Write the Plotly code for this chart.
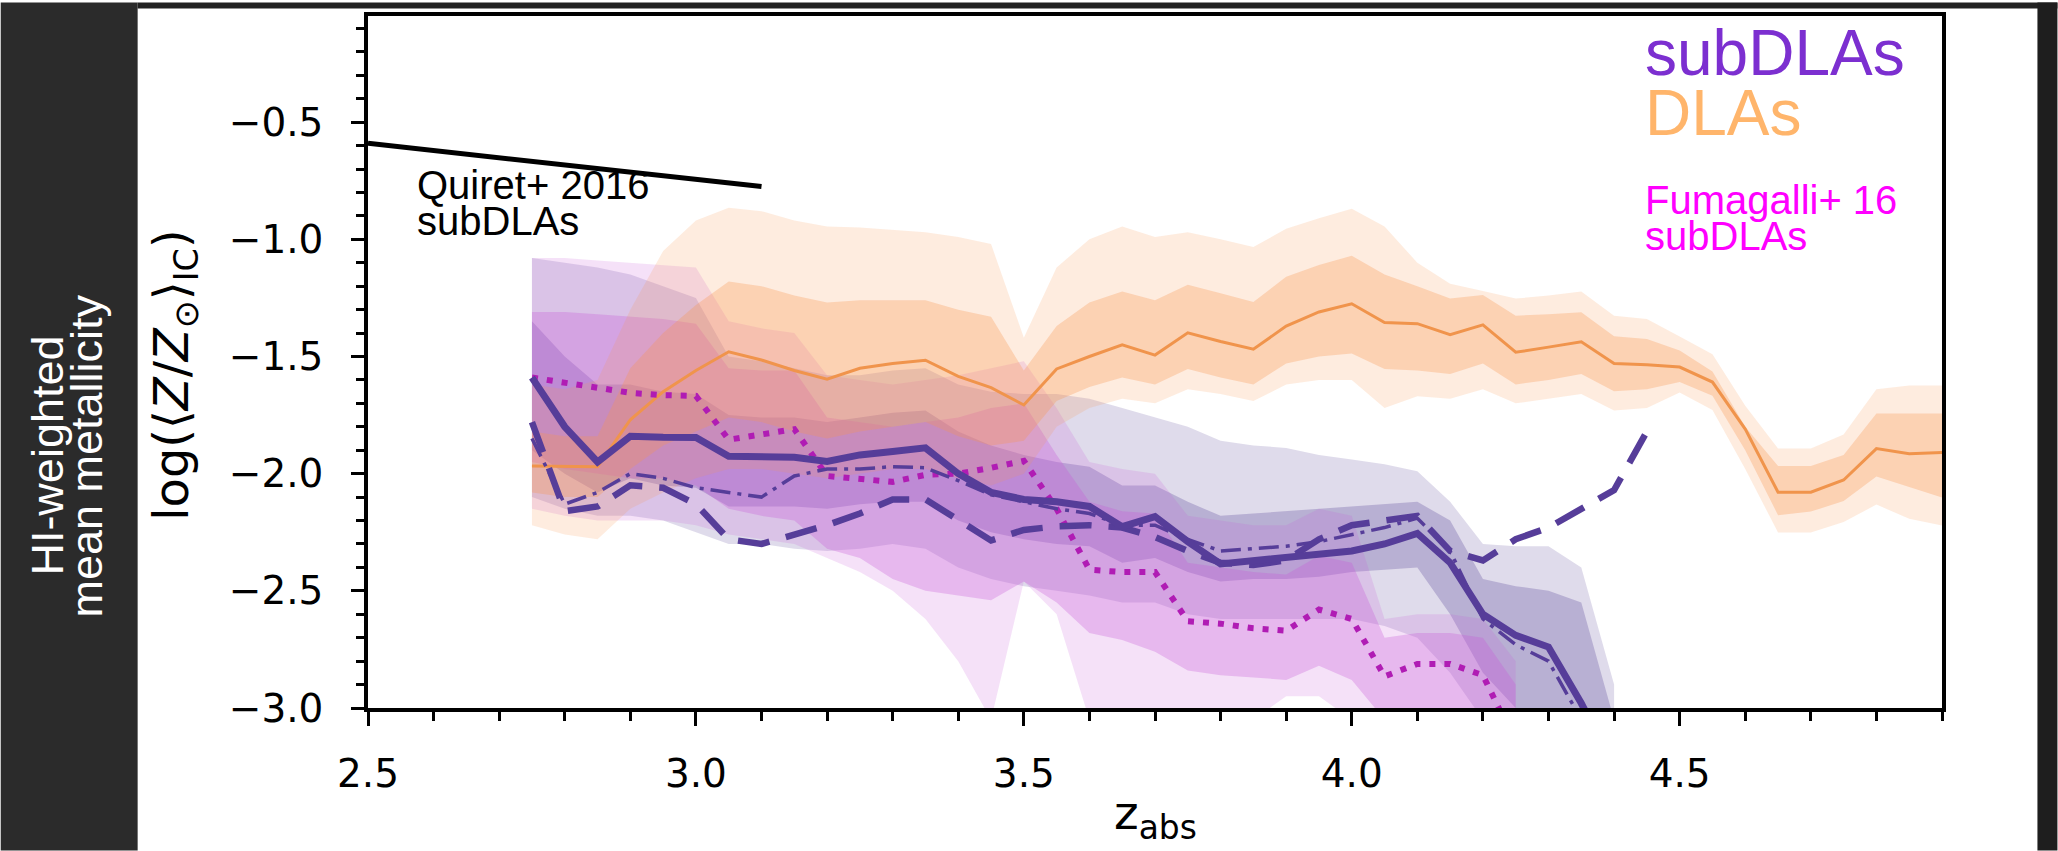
import plotly.graph_objects as go

# ---------------- data ----------------
# DLAs (orange): median and two percentile bands
dla_z = [2.75, 2.80, 2.85, 2.90, 2.95, 3.00, 3.05, 3.10, 3.15, 3.20, 3.25, 3.30, 3.35, 3.40, 3.45,
         3.50, 3.55, 3.60, 3.65, 3.70, 3.75, 3.80, 3.85, 3.90, 3.95, 4.00, 4.05, 4.10, 4.15, 4.20,
         4.25, 4.30, 4.35, 4.40, 4.45, 4.50, 4.55, 4.60, 4.65, 4.70, 4.75, 4.80, 4.85, 4.90]
dla_med = [-1.967, -1.97, -1.97, -1.77, -1.65, -1.56, -1.48, -1.515, -1.56, -1.597, -1.55, -1.53, -1.516, -1.585, -1.633,
           -1.707, -1.553, -1.50, -1.45, -1.494, -1.399, -1.436, -1.469, -1.37, -1.31, -1.275, -1.355, -1.36, -1.407, -1.365,
           -1.482, -1.46, -1.437, -1.53, -1.535, -1.545, -1.609, -1.81, -2.079, -2.079, -2.027, -1.893, -1.915, -1.91]
dla_in_hi = [-1.82, -1.84, -1.84, -1.55, -1.40, -1.28, -1.18, -1.20, -1.24, -1.27, -1.26, -1.26, -1.26, -1.30, -1.33,
             -1.56, -1.37, -1.27, -1.223, -1.26, -1.194, -1.23, -1.267, -1.16, -1.11, -1.07, -1.15, -1.20, -1.253, -1.238,
             -1.326, -1.32, -1.311, -1.414, -1.425, -1.474, -1.564, -1.80, -1.967, -1.967, -1.92, -1.743, -1.743, -1.743]
dla_in_lo = [-2.08, -2.10, -2.10, -1.98, -1.88, -1.82, -1.76, -1.78, -1.82, -1.85, -1.82, -1.80, -1.78, -1.84, -1.88,
             -1.86, -1.69, -1.63, -1.59, -1.62, -1.553, -1.59, -1.619, -1.53, -1.50, -1.487, -1.553, -1.56, -1.575, -1.53,
             -1.619, -1.60, -1.575, -1.648, -1.64, -1.609, -1.668, -1.90, -2.177, -2.162, -2.117, -2.012, -2.057, -2.102]
dla_out_hi = [-1.62, -1.64, -1.60, -1.30, -1.05, -0.92, -0.865, -0.88, -0.92, -0.945, -0.95, -0.96, -0.97, -0.99, -1.02,
              -1.42, -1.12, -1.00, -0.945, -0.99, -0.97, -1.00, -1.033, -0.955, -0.91, -0.87, -0.945, -1.10, -1.19, -1.22,
              -1.253, -1.24, -1.223, -1.326, -1.34, -1.415, -1.49, -1.71, -1.893, -1.893, -1.833, -1.64, -1.624, -1.624]
dla_out_lo = [-2.22, -2.26, -2.28, -2.15, -2.08, -2.02, -1.98, -1.98, -2.00, -2.02, -2.00, -1.98, -1.98, -2.02, -2.05,
              -2.00, -1.80, -1.72, -1.68, -1.70, -1.64, -1.66, -1.69, -1.62, -1.60, -1.60, -1.72, -1.67, -1.68, -1.64,
              -1.70, -1.68, -1.66, -1.73, -1.72, -1.654, -1.728, -1.98, -2.251, -2.251, -2.206, -2.132, -2.192, -2.221]

# subDLAs (purple): median and bands
sub_z = [2.75, 2.80, 2.85, 2.90, 2.95, 3.00, 3.05, 3.10, 3.15, 3.20, 3.25, 3.30, 3.35, 3.40, 3.45, 3.50, 3.55,
         3.60, 3.65, 3.70, 3.75, 3.80, 3.85, 3.90, 3.95, 4.00, 4.05, 4.10, 4.15, 4.20, 4.25, 4.30, 4.35, 4.40]
sub_med = [-1.59, -1.80, -1.95, -1.84, -1.845, -1.846, -1.926, -1.926, -1.93, -1.948, -1.92, -1.905, -1.89, -2.00,
           -2.08, -2.11, -2.12, -2.14, -2.226, -2.183, -2.29, -2.385, -2.37, -2.36, -2.345, -2.33, -2.30, -2.255,
           -2.38, -2.60, -2.69, -2.74, -2.98, -3.25]
sub_in_hi = [-1.35, -1.50, -1.62, -1.62, -1.65, -1.66, -1.75, -1.76, -1.76, -1.78, -1.76, -1.74, -1.73, -1.82,
             -1.88, -1.92, -1.95, -1.97, -2.05, -2.05, -2.12, -2.18, -2.17, -2.16, -2.15, -2.14, -2.13, -2.12,
             -2.20, -2.45, -2.48, -2.50, -2.55, -3.05]
sub_in_lo = [-1.90, -2.00, -2.08, -2.02, -2.05, -2.06, -2.14, -2.14, -2.14, -2.15, -2.13, -2.12, -2.12, -2.20,
             -2.25, -2.28, -2.30, -2.31, -2.38, -2.36, -2.42, -2.46, -2.45, -2.45, -2.44, -2.42, -2.41, -2.40,
             -2.60, -2.85, -3.00, -3.10, -3.10, -3.10]
sub_out_hi = [-1.08, -1.10, -1.12, -1.15, -1.20, -1.25, -1.50, -1.52, -1.55, -1.58, -1.58, -1.56, -1.55, -1.62,
              -1.65, -1.66, -1.66, -1.68, -1.72, -1.76, -1.80, -1.86, -1.88, -1.89, -1.92, -1.94, -1.96, -1.99,
              -2.12, -2.30, -2.31, -2.31, -2.40, -2.90]
sub_out_lo = [-2.10, -2.15, -2.18, -2.18, -2.20, -2.25, -2.30, -2.30, -2.32, -2.33, -2.32, -2.30, -2.32, -2.40,
              -2.45, -2.48, -2.50, -2.52, -2.55, -2.55, -2.60, -2.62, -2.62, -2.62, -2.62, -2.62, -2.65, -2.70,
              -2.85, -3.05, -3.10, -3.10, -3.10, -3.10]

# subDLA variants (dashed and dash-dot)
dash_z = [2.75, 2.80, 2.85, 2.90, 2.95, 3.00, 3.05, 3.10, 3.15, 3.20, 3.25, 3.30, 3.35, 3.40, 3.45, 3.50, 3.55, 3.60,
          3.65, 3.70, 3.75, 3.80, 3.85, 3.90, 3.95, 4.00, 4.05, 4.10, 4.15, 4.20, 4.25, 4.30, 4.35, 4.40, 4.45]
dash_met = [-1.78, -2.16, -2.14, -2.05, -2.06, -2.13, -2.28, -2.30, -2.26, -2.22, -2.17, -2.11, -2.11, -2.20, -2.285,
            -2.24, -2.225, -2.22, -2.23, -2.27, -2.33, -2.38, -2.39, -2.37, -2.28, -2.22, -2.20, -2.18, -2.33, -2.37,
            -2.28, -2.23, -2.15, -2.07, -1.82]
dashdot_z = [2.75, 2.80, 2.85, 2.90, 2.95, 3.00, 3.05, 3.10, 3.15, 3.20, 3.25, 3.30, 3.35, 3.40, 3.45, 3.50, 3.55,
             3.60, 3.65, 3.70, 3.75, 3.80, 3.85, 3.90, 3.95, 4.00, 4.05, 4.10, 4.15, 4.20, 4.25, 4.30, 4.35]
dashdot_met = [-1.85, -2.13, -2.08, -2.00, -2.02, -2.06, -2.08, -2.10, -2.01, -1.98, -1.98, -1.97, -1.975, -2.03,
               -2.09, -2.12, -2.15, -2.17, -2.22, -2.22, -2.28, -2.33, -2.32, -2.31, -2.29, -2.26, -2.23, -2.19,
               -2.33, -2.62, -2.73, -2.80, -3.05]

# Fumagalli+16 subDLAs (magenta dotted) and bands
fum_z = [2.75, 2.80, 2.85, 2.90, 2.95, 3.00, 3.05, 3.10, 3.15, 3.20, 3.25, 3.30, 3.35, 3.40, 3.45, 3.50,
         3.55, 3.60, 3.65, 3.70, 3.75, 3.80, 3.85, 3.90, 3.95, 4.00, 4.05, 4.10, 4.15, 4.20, 4.25]
fum_med = [-1.59, -1.61, -1.635, -1.655, -1.665, -1.668, -1.855, -1.835, -1.81, -2.01, -2.02, -2.035, -2.005, -2.00,
           -1.975, -1.945, -2.15, -2.41, -2.42, -2.42, -2.63, -2.64, -2.66, -2.67, -2.58, -2.62, -2.865, -2.812,
           -2.812, -2.86, -3.15]
fum_in_hi = [-1.31, -1.31, -1.32, -1.33, -1.34, -1.36, -1.55, -1.56, -1.56, -1.76, -1.78, -1.80, -1.78, -1.76, -1.72,
             -1.70, -1.92, -2.12, -2.16, -2.17, -2.38, -2.40, -2.42, -2.43, -2.35, -2.38, -2.70, -2.68, -2.68, -2.70,
             -2.90]
fum_in_lo = [-1.95, -1.98, -2.00, -2.02, -2.02, -2.05, -2.15, -2.18, -2.20, -2.32, -2.36, -2.45, -2.50, -2.52, -2.54,
             -2.46, -2.55, -2.68, -2.71, -2.76, -2.84, -2.86, -2.87, -2.88, -2.82, -2.88, -3.05, -3.05, -3.05, -3.05,
             -3.05]
fum_out_hi = [-1.08, -1.08, -1.09, -1.10, -1.11, -1.12, -1.35, -1.38, -1.40, -1.58, -1.60, -1.62, -1.60, -1.58, -1.55,
              -1.52, -1.72, -1.95, -1.98, -2.00, -2.18, -2.20, -2.22, -2.22, -2.15, -2.18, -2.62, -2.60, -2.60, -2.62,
              -2.80]
fum_out_lo = [-2.15, -2.18, -2.20, -2.20, -2.20, -2.22, -2.26, -2.28, -2.30, -2.36, -2.42, -2.50, -2.62, -2.80, -3.05,
              -2.46, -2.60, -3.05, -3.05, -3.05, -3.05, -3.05, -3.05, -2.95, -2.95, -3.05, -3.05, -3.05, -3.05, -3.05,
              -3.05]

# Quiret+2016 subDLAs relation
quiret_z = [2.5, 3.1]
quiret_met = [-0.59, -0.775]

x_range = [2.5, 4.9]
y_range = [-3.0, -0.047]

# ---------------- figure ----------------
W, H = 2058, 851
ML, MR, MT, MB = 367.5, 115.5, 13.5, 143
PW = W - ML - MR
PH = H - MT - MB


def px_x(px):
    return (px - ML) / PW


def px_y(py):
    return (H - MB - py) / PH


def band(z, hi, lo, color):
    return go.Scatter(x=list(z) + list(z)[::-1], y=list(hi) + list(lo)[::-1], fill='toself',
                      fillcolor=color, line=dict(width=0), mode='lines', hoverinfo='skip',
                      showlegend=False)


PURPLE = '#563D99'
fig = go.Figure()
# bands
fig.add_trace(band(sub_z, sub_out_hi, sub_out_lo, 'rgba(95,75,155,0.20)'))
fig.add_trace(band(sub_z, sub_in_hi, sub_in_lo, 'rgba(95,75,155,0.30)'))
fig.add_trace(band(fum_z, fum_out_hi, fum_out_lo, 'rgba(200,90,215,0.18)'))
fig.add_trace(band(fum_z, fum_in_hi, fum_in_lo, 'rgba(200,90,215,0.30)'))
fig.add_trace(band(dla_z, dla_out_hi, dla_out_lo, 'rgba(250,150,80,0.18)'))
fig.add_trace(band(dla_z, dla_in_hi, dla_in_lo, 'rgba(250,150,80,0.30)'))

# lines
fig.add_trace(go.Scatter(x=dla_z, y=dla_med, mode='lines', line=dict(color='#F0944C', width=3),
                         showlegend=False))
fig.add_trace(go.Scatter(x=fum_z, y=fum_med, mode='lines',
                         line=dict(color='#B01CB4', width=6, dash='6px,9px'), showlegend=False))
fig.add_trace(go.Scatter(x=dashdot_z, y=dashdot_met, mode='lines',
                         line=dict(color=PURPLE, width=3.5, dash='20px,7px,4px,7px'), showlegend=False))
fig.add_trace(go.Scatter(x=dash_z, y=dash_met, mode='lines',
                         line=dict(color=PURPLE, width=6.5, dash='32px,17px'), showlegend=False))
fig.add_trace(go.Scatter(x=sub_z, y=sub_med, mode='lines', line=dict(color=PURPLE, width=7),
                         showlegend=False))
fig.add_trace(go.Scatter(x=quiret_z, y=quiret_met, mode='lines', line=dict(color='black', width=5),
                         showlegend=False))

tickfont = dict(family='DejaVu Sans', size=39, color='black')
axis_common = dict(showgrid=False, zeroline=False, showline=True, linewidth=3.5, linecolor='black',
                   mirror=True, ticks='outside', tickwidth=3, tickcolor='black', tickfont=tickfont,
                   tickformat='.1f')

fig.update_layout(
    width=W, height=H, autosize=False,
    margin=dict(l=ML, r=MR, t=MT, b=MB, pad=0),
    paper_bgcolor='white', plot_bgcolor='white',
    xaxis=dict(range=x_range, dtick=0.5, tick0=2.5, ticklen=14, ticklabelstandoff=14,
               minor=dict(dtick=0.1, tick0=2.5, ticks='outside', ticklen=9, tickwidth=2.5,
                          tickcolor='black', showgrid=False),
               **axis_common),
    yaxis=dict(range=y_range, dtick=0.5, tick0=-3.0, ticklen=13, ticklabelstandoff=20,
               minor=dict(dtick=0.1, tick0=-3.0, ticks='outside', ticklen=8, tickwidth=2.5,
                          tickcolor='black', showgrid=False),
               **axis_common),
    showlegend=False,
)

# slide background strips
fig.add_shape(type='rect', xref='paper', yref='paper', x0=px_x(0), x1=px_x(137), y0=px_y(H), y1=px_y(0),
              fillcolor='#2b2b2b', line=dict(width=0), layer='above')
fig.add_shape(type='rect', xref='paper', yref='paper', x0=px_x(137), x1=px_x(W), y0=px_y(6), y1=px_y(0),
              fillcolor='#222222', line=dict(width=0), layer='above')
fig.add_shape(type='rect', xref='paper', yref='paper', x0=px_x(2038), x1=px_x(W), y0=px_y(H), y1=px_y(0),
              fillcolor='#1e1e1e', line=dict(width=0), layer='above')

LIB = 'Liberation Sans'
ann = []
# axis titles
ann.append(dict(text='log(⟨<i>Z</i>/<i>Z</i><sub>⊙</sub>⟩<sub>IC</sub>)', xref='paper', yref='paper',
                x=px_x(174), y=px_y(374), textangle=-90, showarrow=False,
                font=dict(family='DejaVu Sans', size=48, color='black'), xanchor='center', yanchor='middle'))
ann.append(dict(text='z<sub>abs</sub>', xref='paper', yref='paper', x=0.5, y=px_y(816), showarrow=False,
                font=dict(family='DejaVu Sans', size=47, color='black'), xanchor='center', yanchor='middle'))
# slide side label
ann.append(dict(text='HI-weighted', xref='paper', yref='paper', x=px_x(47), y=px_y(455), textangle=-90,
                showarrow=False, font=dict(family=LIB, size=45, color='white'),
                xanchor='center', yanchor='middle'))
ann.append(dict(text='mean metallicity', xref='paper', yref='paper', x=px_x(86), y=px_y(455), textangle=-90,
                showarrow=False, font=dict(family=LIB, size=45, color='white'),
                xanchor='center', yanchor='middle'))
# in-plot labels
ann.append(dict(text='subDLAs', x=4.4435, y=-0.205, xanchor='left', yanchor='middle', showarrow=False,
                font=dict(family=LIB, size=64, color='#7C2FD0')))
ann.append(dict(text='DLAs', x=4.4435, y=-0.46, xanchor='left', yanchor='middle', showarrow=False,
                font=dict(family=LIB, size=64, color='#FFB56B')))
ann.append(dict(text='Fumagalli+ 16', x=4.4435, y=-0.832, xanchor='left', yanchor='middle', showarrow=False,
                font=dict(family=LIB, size=40, color='#FF00FF')))
ann.append(dict(text='subDLAs', x=4.4435, y=-0.985, xanchor='left', yanchor='middle', showarrow=False,
                font=dict(family=LIB, size=40, color='#FF00FF')))
ann.append(dict(text='Quiret+ 2016', x=2.572, y=-0.768, xanchor='left', yanchor='middle', showarrow=False,
                font=dict(family=LIB, size=40, color='black')))
ann.append(dict(text='subDLAs', x=2.572, y=-0.921, xanchor='left', yanchor='middle', showarrow=False,
                font=dict(family=LIB, size=40, color='black')))
fig.update_layout(annotations=ann)

fig.write_html('out.html')
